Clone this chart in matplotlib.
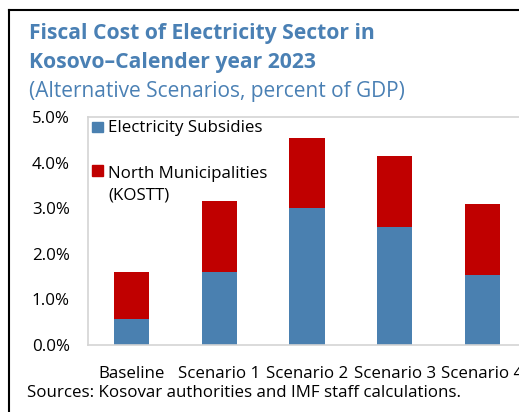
import matplotlib
matplotlib.use("Agg")
import matplotlib.pyplot as plt
from matplotlib.patches import Rectangle
from matplotlib.lines import Line2D
from matplotlib.ticker import FuncFormatter

categories = ["Baseline", "Scenario 1", "Scenario 2", "Scenario 3", "Scenario 4"]
subsidies = [0.57, 1.59, 3.00, 2.59, 1.54]
north = [1.04, 1.57, 1.55, 1.56, 1.56]
yticks = [0, 1, 2, 3, 4, 5]

W, H = 519, 412
plt.rcParams['font.family'] = ['Open Sans', 'DejaVu Sans']
fig = plt.figure(figsize=(W / 100, H / 100), dpi=100)

def fx(px):
    return px / W

def fy(py):
    return 1 - py / H

blue = "#4a80b0"
red = "#c00000"
title_c = "#4a80b4"
grey = "#d4d4d4"
fs = 12.2

ax = fig.add_axes([fx(88), fy(345), (526 - 88) / W, (345 - 117) / H])
x = range(len(categories))
ax.bar(x, subsidies, width=0.4, color=blue, zorder=2)
ax.bar(x, north, width=0.4, bottom=subsidies, color=red, zorder=2)
ax.set_xlim(-0.5, 4.5)
ax.set_ylim(0, 5)
ax.set_yticks(yticks)
ax.yaxis.set_major_formatter(FuncFormatter(lambda v, p: f"{v:.1f}%"))
ax.set_xticks(list(x))
ax.set_xticklabels(categories)
ax.tick_params(axis='both', length=0, labelsize=fs, colors="#000000")
ax.tick_params(axis='y', pad=13)
ax.tick_params(axis='x', pad=15)
for s in ['left', 'top', 'bottom', 'right']:
    ax.spines[s].set_color(grey)
    ax.spines[s].set_linewidth(1.2)

# legend drawn manually
fig.add_artist(Rectangle((fx(92), fy(132)), 11 / W, 10.5 / H, transform=fig.transFigure,
                         color=blue, zorder=5))
fig.text(fx(108), fy(132), "Electricity Subsidies", fontsize=fs, va='baseline', ha='left')
fig.add_artist(Rectangle((fx(92), fy(176)), 11 / W, 10.5 / H, transform=fig.transFigure,
                         color=red, zorder=5))
fig.text(fx(108), fy(177.5), "North Municipalities", fontsize=fs, va='baseline', ha='left')
fig.text(fx(108), fy(200), "(KOSTT)", fontsize=fs, va='baseline', ha='left')

# titles
fig.text(fx(29), fy(39), "Fiscal Cost of Electricity Sector in", fontsize=15.2, fontweight='bold',
         color=title_c, va='baseline', ha='left')
fig.text(fx(29), fy(68), "Kosovo\u2013Calender year 2023", fontsize=15.2, fontweight='bold',
         color=title_c, va='baseline', ha='left')
fig.text(fx(29), fy(97), "(Alternative Scenarios, percent of GDP)", fontsize=15,
         color=title_c, va='baseline', ha='left')
fig.text(fx(27), fy(397), "Sources: Kosovar authorities and IMF staff calculations.", fontsize=fs,
         va='baseline', ha='left')

# outer frame (top and left)
fig.add_artist(Line2D([fx(9), fx(9)], [fy(10), 0], transform=fig.transFigure, color="#000000", lw=1.5))
fig.add_artist(Line2D([fx(9), 1], [fy(10), fy(10)], transform=fig.transFigure, color="#000000", lw=1.5))

fig.savefig("out.png", dpi=100)
